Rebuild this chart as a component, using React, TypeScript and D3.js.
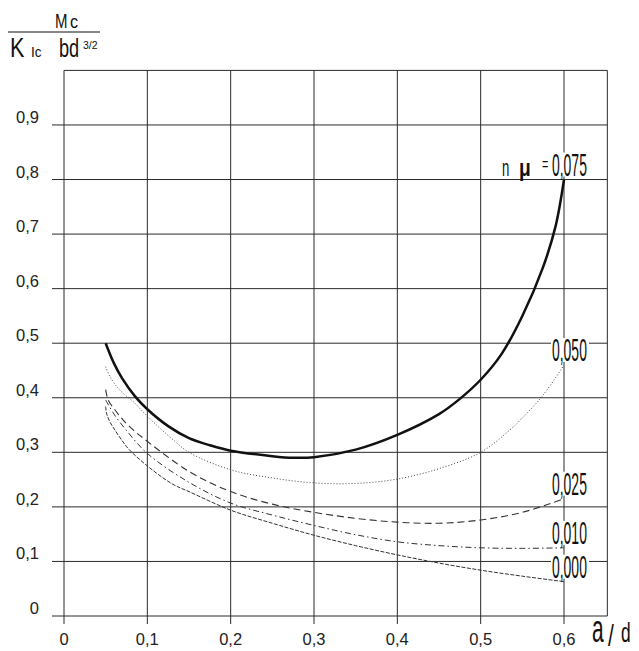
import React from "react";
import * as d3 from "d3";

// ---- data ----
const xTicks = [0, 0.1, 0.2, 0.3, 0.4, 0.5, 0.6];
const xTickLabels = ["0", "0,1", "0,2", "0,3", "0,4", "0,5", "0,6"];
const yTicks = [0, 0.1, 0.2, 0.3, 0.4, 0.5, 0.6, 0.7, 0.8, 0.9];
const yTickLabels = ["0", "0,1", "0,2", "0,3", "0,4", "0,5", "0,6", "0,7", "0,8", "0,9"];

const ad075 = [0.05, 0.06, 0.07, 0.085, 0.1, 0.125, 0.15, 0.175, 0.2, 0.25, 0.275, 0.3, 0.35, 0.4, 0.45, 0.475, 0.5, 0.525, 0.55, 0.575, 0.59, 0.6];
const mc075 = [0.5, 0.463, 0.435, 0.403, 0.379, 0.348, 0.326, 0.313, 0.303, 0.293, 0.29, 0.291, 0.305, 0.332, 0.37, 0.398, 0.433, 0.48, 0.55, 0.64, 0.715, 0.8];

const ad050 = [0.05, 0.055, 0.063, 0.071, 0.083, 0.095, 0.111, 0.131, 0.15, 0.2, 0.25, 0.3, 0.35, 0.4, 0.45, 0.5, 0.535, 0.55, 0.575, 0.6];
const mc050 = [0.457, 0.439, 0.421, 0.408, 0.393, 0.374, 0.35, 0.323, 0.3, 0.268, 0.253, 0.244, 0.243, 0.251, 0.27, 0.3, 0.341, 0.363, 0.405, 0.46];

const ad025 = [0.05, 0.053, 0.061, 0.071, 0.083, 0.095, 0.15, 0.2, 0.25, 0.3, 0.35, 0.4, 0.45, 0.5, 0.55, 0.6];
const mc025 = [0.415, 0.396, 0.378, 0.359, 0.341, 0.326, 0.265, 0.228, 0.205, 0.19, 0.179, 0.172, 0.17, 0.176, 0.19, 0.215];

const ad010 = [0.05, 0.06, 0.075, 0.1, 0.15, 0.2, 0.25, 0.3, 0.35, 0.4, 0.45, 0.5, 0.55, 0.6];
const mc010 = [0.396, 0.37, 0.34, 0.298, 0.245, 0.207, 0.185, 0.166, 0.149, 0.136, 0.129, 0.125, 0.124, 0.125];

const ad000 = [0.05, 0.051, 0.055, 0.061, 0.069, 0.077, 0.1, 0.13, 0.15, 0.2, 0.25, 0.3, 0.35, 0.4, 0.45, 0.5, 0.55, 0.6];
const mc000 = [0.384, 0.372, 0.356, 0.341, 0.323, 0.307, 0.275, 0.242, 0.228, 0.194, 0.17, 0.148, 0.129, 0.112, 0.097, 0.084, 0.073, 0.063];

const seriesLabels = ["0,075", "0,050", "0,025", "0,010", "0,000"];

export default function App() {
  const W = 639;
  const H = 651;
  const x = d3.scaleLinear().domain([0, 0.6]).range([64, 564]);
  const y = d3.scaleLinear().domain([0, 1]).range([616, 70.4]);
  const xMax = 0.652;

  const line = d3
    .line<[number, number]>()
    .x((d) => x(d[0]))
    .y((d) => y(d[1]))
    .curve(d3.curveCatmullRom.alpha(0.5));

  const zip = (a: number[], b: number[]) => a.map((v, i) => [v, b[i]] as [number, number]);

  const series = [
    { xs: ad075, ys: mc075, stroke: "#111", width: 2.5, dash: "none" },
    { xs: ad050, ys: mc050, stroke: "#444", width: 1, dash: "1,2" },
    { xs: ad025, ys: mc025, stroke: "#333", width: 1.1, dash: "7,4" },
    { xs: ad010, ys: mc010, stroke: "#333", width: 1, dash: "6,3,1.5,3" },
    { xs: ad000, ys: mc000, stroke: "#333", width: 1, dash: "4,1.5" },
  ];

  const gridColor = "#2a2a2a";
  const sans = "'Liberation Sans', Arial, sans-serif";
  const endY = y(mc075[mc075.length - 1]) - 4;

  return (
    <svg
      width={W}
      height={H}
      style={{ position: "absolute", left: 0, top: 0, background: "#fff" }}
      fontFamily={sans}
    >
      <rect x={0} y={0} width={W} height={H} fill="#fff" />
      {/* grid */}
      {yTicks.map((t) => (
        <line key={"h" + t} x1={52} x2={x(xMax)} y1={y(t)} y2={y(t)} stroke={gridColor} strokeWidth={1} />
      ))}
      <line x1={x(0)} x2={x(xMax)} y1={y(1)} y2={y(1)} stroke={gridColor} strokeWidth={1} />
      {xTicks.map((t) => (
        <line key={"v" + t} x1={x(t)} x2={x(t)} y1={y(1)} y2={624} stroke={gridColor} strokeWidth={1} />
      ))}
      <line x1={x(xMax)} x2={x(xMax)} y1={y(1)} y2={y(0)} stroke={gridColor} strokeWidth={1} />

      {/* y tick labels */}
      {yTicks.map((t, i) => (
        <text key={"yl" + t} x={39} y={y(t) - 2} fontSize={16.5} textAnchor="end" fill="#222">
          {yTickLabels[i]}
        </text>
      ))}
      {/* x tick labels */}
      {xTicks.map((t, i) => (
        <text key={"xl" + t} x={x(t)} y={645} fontSize={16.5} textAnchor="middle" fill="#222">
          {xTickLabels[i]}
        </text>
      ))}

      {/* curves */}
      {series.map((s, i) => (
        <path
          key={"s" + i}
          d={line(zip(s.xs, s.ys)) || ""}
          fill="none"
          stroke={s.stroke}
          strokeWidth={s.width}
          strokeDasharray={s.dash}
          strokeLinecap="butt"
        />
      ))}

      {/* curve labels */}
      {series.map((s, i) => {
        const yEnd = y(s.ys[s.ys.length - 1]) - 4;
        const xStart = x(0.6) - 12;
        return (
          <g key={"lab" + i}>
            <rect x={xStart - 1} y={yEnd - 23} width={38} height={24} fill="#fff" />
            <text
              transform={`translate(${xStart},${yEnd}) scale(0.45,1)`}
              fontSize={31}
              fill="#111"
            >
              {seriesLabels[i]}
            </text>
          </g>
        );
      })}
      {/* n mu = prefix */}
      <text transform={`translate(502,${endY}) scale(0.55,1)`} fontSize={24} fill="#111">
        n
      </text>
      <text transform={`translate(519,${endY}) scale(0.8,1)`} fontSize={24} fontWeight="bold" fill="#111">
        μ
      </text>
      <text transform={`translate(542,${endY - 6}) scale(0.6,1)`} fontSize={18} fill="#111">
        =
      </text>

      {/* title fraction */}
      <text transform="translate(55,28) scale(0.75,1)" fontSize={20} fill="#111">
        M
      </text>
      <text transform="translate(70,28) scale(0.85,1)" fontSize={19} fill="#111">
        c
      </text>
      <line x1={8} x2={100} y1={32} y2={32} stroke="#111" strokeWidth={1.2} />
      <text transform="translate(10,57) scale(0.8,1)" fontSize={27} fill="#111">
        K
      </text>
      <text transform="translate(31,57) scale(0.9,1)" fontSize={15} fill="#111">
        Ic
      </text>
      <text transform="translate(59,57) scale(0.7,1)" fontSize={26} fill="#111">
        bd
      </text>
      <text transform="translate(83,49) scale(0.95,1)" fontSize={11} fill="#111">
        3/2
      </text>

      {/* axis title a/d */}
      <text transform="translate(592,642) scale(0.55,1)" fontSize={38} fill="#111">
        a
      </text>
      <text transform="translate(608,646) scale(0.7,1)" fontSize={30} fill="#111">
        /
      </text>
      <text transform="translate(621,642) scale(0.62,1)" fontSize={28} fill="#111">
        d
      </text>
    </svg>
  );
}
